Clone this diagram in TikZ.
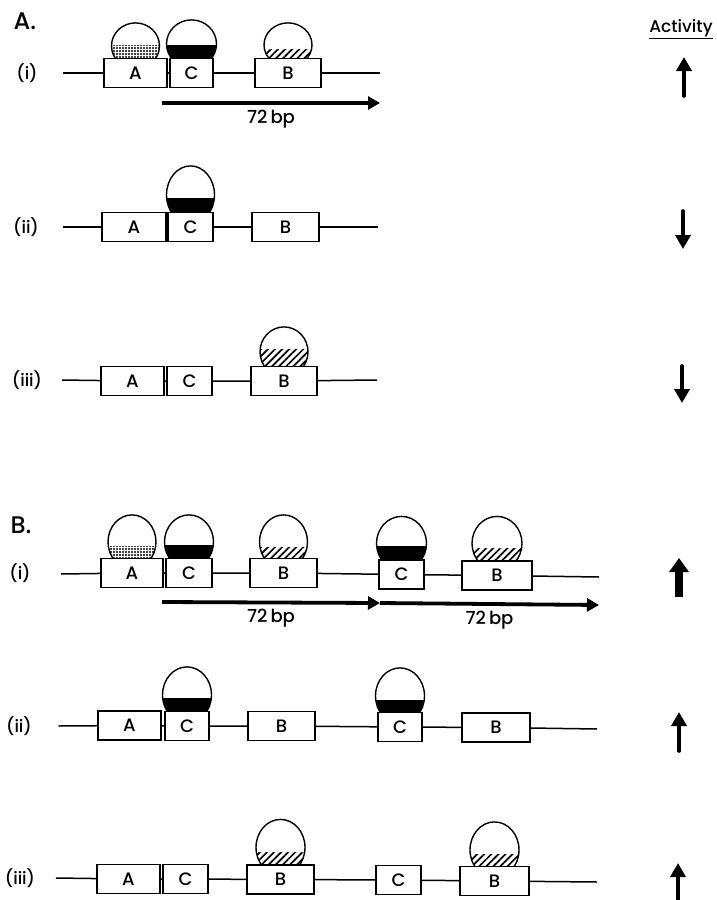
\documentclass[tikz,border=0pt]{standalone}
\usepackage{fontspec}
\setmainfont{Poppins}
\newfontfamily\labfont{Poppins}[UprightFont={* Medium}]
\usetikzlibrary{arrows.meta,patterns.meta}

\tikzset{
  site/.style={draw, line width=1.2pt, minimum height=29pt, inner sep=0pt, font=\labfont\fontsize{18}{18}\selectfont},
  lab/.style={font=\labfont\fontsize{17}{17}\selectfont},
  dna/.style={line width=1.5pt},
  bpspan/.style={line width=3.8pt, -{Triangle[width=13pt,length=12pt]}},
  bplab/.style={midway, below=5pt, inner sep=0pt, font=\labfont\fontsize{18}{18}\selectfont},
  activity/.style={line width=3.6pt, line cap=round, -{Triangle[width=15pt,length=14pt]}},
  bigactivity/.style={line width=8.5pt, -{Triangle[width=19pt,length=14pt]}},
  stipple/.style={pattern={Dots[distance=3pt,radius=1.1pt]}},
  solidfill/.style={fill=black},
  hatch/.style={pattern={Lines[angle=45,distance=5pt,line width=1.7pt]}},
  % factor sitting on a box: fill, band height, x radius, y radius, lift of centre
  pics/factor/.style n args={5}{code={
    \begin{scope}
      \clip (-#3-2,-#4-#5-2) rectangle (#3+2,0);
      \begin{scope}
        \clip (0,-#5) ellipse [x radius=#3, y radius=#4];
        \fill[#1] (-#3-1,-#2) rectangle (#3+1,0);
      \end{scope}
      \draw[line width=1.4pt] (0,-#5) ellipse [x radius=#3, y radius=#4];
    \end{scope}
  }}
}

\begin{document}
\begin{tikzpicture}[x=1pt,y=-1pt]
\useasboundingbox (0,0) rectangle (717,900);

\node[font=\labfont\fontsize{24}{24}\selectfont] (pa) at (25,21) {A.};
\node[font=\labfont\fontsize{17}{17}\selectfont] (act) at (681,29) {\underline{Activity}};

% A (i)
\node[lab] (ai) at (27,73) {(i)};
\coordinate (ai-l) at (63,73);
\coordinate (ai-r) at (380,73);
\node[site, minimum width=63pt] (aiA) at (135.5,73) {A};
\node[site, minimum width=43pt] (aiC) at (191.5,73) {C};
\node[site, minimum width=66pt] (aiB) at (288,73) {B};
\draw[dna] (ai-l) -- (aiA) (aiA) -- (aiC) (aiC) -- (aiB) (aiB) -- (ai-r);
\pic at (aiA.north) {factor={stipple}{12}{24}{23}{12}};
\pic at (aiC.north) {factor={solidfill}{13}{25}{24}{14}};
\pic at (aiB.north) {factor={hatch}{8}{24}{22}{13}};
\coordinate (ai-s) at (162,103);
\coordinate (ai-e) at (380,103);
\draw[bpspan] (ai-s) -- node[bplab] {72\,bp} (ai-e);
\draw[activity] (684,96) -- (684,57);

% A (ii)
\node[lab] (aii) at (26,227) {(ii)};
\coordinate (aii-l) at (63,227);
\coordinate (aii-r) at (378,227);
\node[site, minimum width=64pt] (aiiA) at (134,227) {A};
\node[site, minimum width=45pt] (aiiC) at (190.5,227) {C};
\node[site, minimum width=67pt] (aiiB) at (285.5,227) {B};
\draw[dna] (aii-l) -- (aiiA) (aiiA) -- (aiiC) (aiiC) -- (aiiB) (aiiB) -- (aii-r);
\pic at (aiiC.north) {factor={solidfill}{14}{24}{29}{17}};
\draw[activity] (683,211) -- (683,249);

% A (iii)
\node[lab] (aiii) at (27,380) {(iii)};
\coordinate (aiii-l) at (62,380);
\coordinate (aiii-r) at (377,380);
\node[site, minimum width=63pt] (aiiiA) at (132.5,381) {A};
\node[site, minimum width=45pt] (aiiiC) at (189.5,381) {C};
\node[site, minimum width=66pt] (aiiiB) at (284,381) {B};
\draw[dna] (aiii-l) -- (aiiiA) (aiiiA) -- (aiiiC) (aiiiC) -- (aiiiB) (aiiiB) -- (aiii-r);
\pic at (aiiiB.north) {factor={hatch}{16}{24}{25}{14}};
\draw[activity] (682,366) -- (682,403);

\node[font=\labfont\fontsize{24}{24}\selectfont] (pb) at (21,525) {B.};

% B (i)
\node[lab] (bi) at (20,573) {(i)};
\coordinate (bi-l) at (61,574);
\coordinate (bi-r) at (599,577);
\node[site, minimum width=62pt] (biA) at (132,573) {A};
\node[site, minimum width=46pt] (biC) at (189,573) {C};
\node[site, minimum width=67pt] (biB) at (283.5,573) {B};
\node[site, minimum width=45pt] (biC2) at (401.5,574.5) {C};
\node[site, minimum width=70pt] (biB2) at (497,575.5) {B};
\draw[dna] (bi-l) -- (biA) (biA) -- (biC) (biC) -- (biB) (biB) -- (biC2) (biC2) -- (biB2) (biB2) -- (bi-r);
\pic at (biA.north) {factor={stipple}{11}{24}{27}{16}};
\pic at (biC.north) {factor={solidfill}{13}{24.5}{27}{16}};
\pic at (biB.north) {factor={hatch}{10}{24}{27}{16}};
\pic at (biC2.north) {factor={solidfill}{13}{25}{27}{16}};
\pic at (biB2.north) {factor={hatch}{12}{25}{27}{17}};
\coordinate (bi-s) at (162,602);
\coordinate (bi-m) at (380,603);
\coordinate (bi-e) at (599,605);
\draw[bpspan] (bi-s) -- node[bplab] {72\,bp} (bi-m);
\draw[bpspan] (bi-m) -- node[bplab] {72\,bp} (bi-e);
\draw[bigactivity] (679,597) -- (679,558);

% B (ii)
\node[lab] (bii) at (19,726) {(ii)};
\coordinate (bii-l) at (58.5,726);
\coordinate (bii-r) at (597,729);
\node[site, minimum width=63pt] (biiA) at (129.5,725.5) {A};
\node[site, minimum width=44pt] (biiC) at (187,726) {C};
\node[site, minimum width=67pt] (biiB) at (281.5,726) {B};
\node[site, minimum width=44pt] (biiC2) at (400,727) {C};
\node[site, minimum width=68pt] (biiB2) at (496,727.5) {B};
\draw[dna] (bii-l) -- (biiA) (biiA) -- (biiC) (biiC) -- (biiB) (biiB) -- (biiC2) (biiC2) -- (biiB2) (biiB2) -- (bii-r);
\pic at (biiC.north) {factor={solidfill}{13}{24.5}{28}{16}};
\pic at (biiC2.north) {factor={solidfill}{12}{24.5}{28}{16}};
\draw[activity] (679,751) -- (679,712);

% B (iii)
\node[lab] (biii) at (20,878) {(iii)};
\coordinate (biii-l) at (56,878);
\coordinate (biii-r) at (597,882);
\node[site, minimum width=63pt] (biiiA) at (128.5,879) {A};
\node[site, minimum width=45pt] (biiiC) at (185.5,879) {C};
\node[site, minimum width=67pt] (biiiB) at (280.5,879.5) {B};
\node[site, minimum width=45pt] (biiiC2) at (398.5,880) {C};
\node[site, minimum width=69pt] (biiiB2) at (494.5,881) {B};
\draw[dna] (biii-l) -- (biiiA) (biiiA) -- (biiiC) (biiiC) -- (biiiB) (biiiB) -- (biiiC2) (biiiC2) -- (biiiB2) (biiiB2) -- (biii-r);
\pic at (biiiB.north) {factor={hatch}{12}{24.5}{28}{17}};
\pic at (biiiB2.north) {factor={hatch}{11}{24.5}{28}{16}};
\draw[activity] (678,905) -- (678,863);
\end{tikzpicture}
\end{document}
